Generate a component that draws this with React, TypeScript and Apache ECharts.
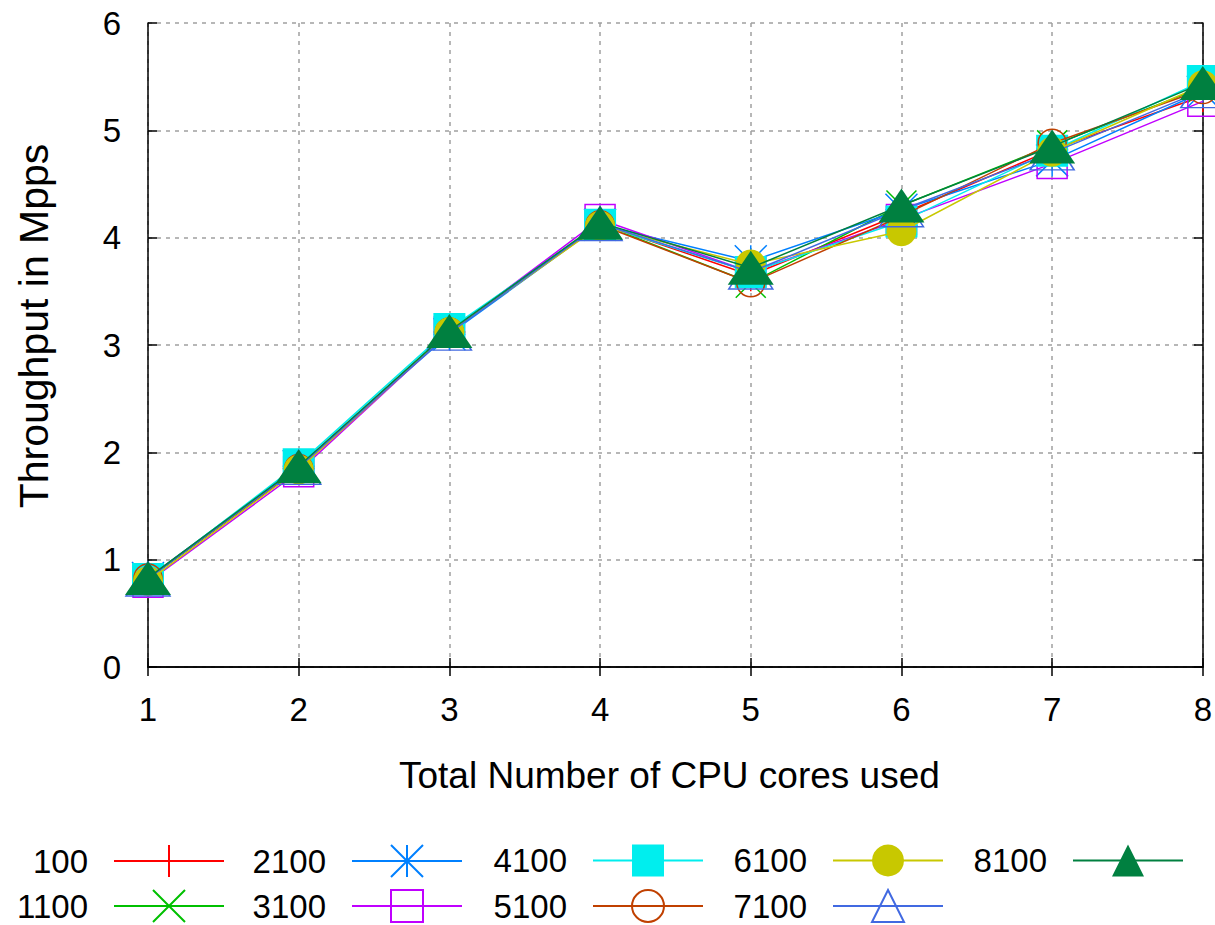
import React, { useEffect, useRef } from "react";
import * as echarts from "echarts";

const cores = [1, 2, 3, 4, 5, 6, 7, 8];
const yTicks = [0, 1, 2, 3, 4, 5, 6];

const s100 = [0.82, 1.85, 3.12, 4.13, 3.65, 4.22, 4.82, 5.32];
const s1100 = [0.82, 1.86, 3.13, 4.13, 3.58, 4.3, 4.86, 5.4];
const s2100 = [0.83, 1.87, 3.1, 4.12, 3.78, 4.26, 4.72, 5.36];
const s3100 = [0.79, 1.82, 3.12, 4.17, 3.68, 4.17, 4.69, 5.27];
const s4100 = [0.82, 1.89, 3.15, 4.12, 3.68, 4.15, 4.81, 5.46];
const s5100 = [0.83, 1.85, 3.12, 4.12, 3.58, 4.2, 4.88, 5.38];
const s6100 = [0.8, 1.84, 3.12, 4.11, 3.75, 4.06, 4.8, 5.42];
const s7100 = [0.82, 1.86, 3.11, 4.13, 3.68, 4.26, 4.79, 5.37];
const s8100 = [0.83, 1.87, 3.13, 4.14, 3.72, 4.3, 4.85, 5.44];

const seriesNames = ["100", "1100", "2100", "3100", "4100", "5100", "6100", "7100", "8100"];
const seriesValues = [s100, s1100, s2100, s3100, s4100, s5100, s6100, s7100, s8100];
const seriesColors = ["#ff0000", "#00c000", "#0080ff", "#c000ff", "#00eeee", "#c04000", "#c8c800", "#4169e1", "#008040"];

const FONT = "'Liberation Sans', Arial, Helvetica, sans-serif";

const symbolDefs: any[] = [
  { symbol: "path://M0,10L20,10M10,0L10,20", size: 32, filled: false },
  { symbol: "path://M0,0L20,20M20,0L0,20", size: 30, filled: false },
  { symbol: "path://M0,10L20,10M10,0L10,20M0,0L20,20M20,0L0,20", size: 32, filled: false },
  { symbol: "path://M0,0L20,0L20,20L0,20Z", size: 30, filled: false },
  { symbol: "rect", size: 32, filled: true },
  { symbol: "path://M10,0A10,10,0,1,1,10,20A10,10,0,1,1,10,0Z", size: 28, filled: false },
  { symbol: "circle", size: 30, filled: true },
  { symbol: "path://M10,0L20,20L0,20Z", size: [44, 34], filled: false },
  { symbol: "triangle", size: [46, 34], filled: true },
];

const LEGEND_H = 40;
// legend layout: [distance of icon's right edge from the right side, row centre]
const legendPos = [
  [1215 - 225, 864],
  [1215 - 225, 909],
  [1215 - 463, 864],
  [1215 - 463, 909],
  [1215 - 704, 864],
  [1215 - 704, 909],
  [1215 - 944, 864],
  [1215 - 944, 909],
  [1215 - 1184, 864],
];

export default function App() {
  const ref = useRef<HTMLDivElement>(null);
  useEffect(() => {
    if (!ref.current) return;
    const chart = echarts.init(ref.current, undefined, { renderer: "svg" });

    const series = seriesNames.map((name, i) => {
      const def = symbolDefs[i];
      const c = seriesColors[i];
      return {
        name,
        type: "line",
        xAxisIndex: 0,
        yAxisIndex: 0,
        data: cores.map((x, k) => [x, seriesValues[i][k]]),
        symbol: def.symbol,
        symbolSize: def.size,
        showAllSymbol: true,
        lineStyle: { color: c, width: 1.5 },
        itemStyle: {
          color: def.filled ? c : "rgba(0,0,0,0)",
          borderColor: c,
          borderWidth: def.filled ? 0 : 1.5,
        },
        emphasis: { disabled: true },
        z: 2 + i,
      };
    });

    const legends = seriesNames.map((name, i) => ({
      data: [name],
      right: legendPos[i][0],
      top: legendPos[i][1] - LEGEND_H / 2,
      orient: "horizontal",
      align: "right",
      padding: 0,
      itemWidth: 110,
      itemHeight: LEGEND_H,
      selectedMode: false,
      textStyle: {
        fontSize: 33,
        lineHeight: 30,
        color: "#000",
        fontFamily: FONT,
        padding: [0, 21, 0, 0],
      },
    }));

    const axisLine = { show: true, lineStyle: { color: "#000", width: 1.5 } };
    const axisTick = { show: true, inside: true, length: 9, lineStyle: { color: "#000", width: 1.5 } };
    const splitLine = { show: true, lineStyle: { color: "#a0a0a0", width: 1.5, type: [4, 5] } };

    chart.setOption({
      animation: false,
      backgroundColor: "#fff",
      grid: { left: 148, top: 23, width: 1057, height: 644, containLabel: false },
      legend: legends,
      xAxis: [
        {
          type: "value",
          min: cores[0],
          max: cores[cores.length - 1],
          interval: 1,
          position: "bottom",
          axisLine,
          axisTick,
          splitLine,
          axisLabel: { fontSize: 33, color: "#000", fontFamily: FONT, margin: 26 },
          name: "Total Number of CPU cores used",
          nameLocation: "middle",
          nameGap: 90,
          nameTextStyle: { fontSize: 37, color: "#000", fontFamily: FONT, padding: [0, 12, 0, 0] },
        },
        {
          type: "value",
          min: cores[0],
          max: cores[cores.length - 1],
          interval: 1,
          position: "top",
          axisLine,
          axisTick,
          splitLine: { show: false },
          axisLabel: { show: false },
        },
      ],
      yAxis: [
        {
          type: "value",
          min: yTicks[0],
          max: yTicks[yTicks.length - 1],
          interval: 1,
          position: "left",
          axisLine,
          axisTick,
          splitLine,
          axisLabel: { fontSize: 33, color: "#000", fontFamily: FONT, margin: 27 },
        },
        {
          type: "value",
          min: yTicks[0],
          max: yTicks[yTicks.length - 1],
          interval: 1,
          position: "right",
          axisLine,
          axisTick,
          splitLine: { show: false },
          axisLabel: { show: false },
        },
      ],
      graphic: [
        {
          type: "text",
          x: 34,
          y: 326,
          rotation: Math.PI / 2,
          style: {
            text: "Throughput in Mpps",
            fontSize: 41,
            fontFamily: FONT,
            fill: "#000",
            align: "center",
            verticalAlign: "middle",
          },
        },
      ],
      series,
    });

    return () => chart.dispose();
  }, []);

  return (
    <div
      ref={ref}
      style={{ position: "fixed", left: 0, top: 0, width: 1215, height: 925, background: "#fff" }}
    />
  );
}
